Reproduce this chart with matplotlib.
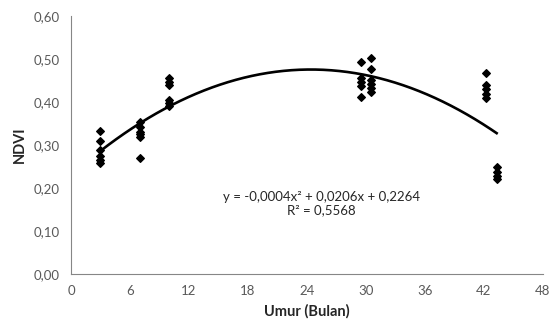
import numpy as np
import matplotlib
matplotlib.use("Agg")
import matplotlib.pyplot as plt
from matplotlib.ticker import FuncFormatter

plt.rcParams['font.family'] = ['Lato', 'DejaVu Sans']

umur = [3, 3, 3, 3, 3, 3,
        7, 7, 7, 7, 7, 7,
        10, 10, 10, 10, 10, 10,
        29.5, 29.5, 29.5, 29.5, 29.5,
        30.5, 30.5, 30.5, 30.5, 30.5, 30.5,
        42.2, 42.2, 42.2, 42.2, 42.2,
        43.3, 43.3, 43.3, 43.3]
ndvi = [0.333, 0.310, 0.289, 0.274, 0.265, 0.258,
        0.353, 0.341, 0.331, 0.325, 0.319, 0.269,
        0.455, 0.447, 0.440, 0.405, 0.398, 0.391,
        0.494, 0.455, 0.446, 0.438, 0.412,
        0.503, 0.476, 0.451, 0.441, 0.432, 0.423,
        0.468, 0.440, 0.430, 0.418, 0.410,
        0.248, 0.238, 0.228, 0.222]

xticks = [0, 6, 12, 18, 24, 30, 36, 42, 48]
yticks = [0.0, 0.1, 0.2, 0.3, 0.4, 0.5, 0.6]

fig = plt.figure(figsize=(5.5, 3.27), dpi=100)
ax = fig.add_axes([0.129, 0.162, 0.858, 0.789])

# polynomial trendline (order 2)
coef = np.polyfit(umur, ndvi, 2)
xs = np.linspace(min(umur), max(umur), 200)
ax.plot(xs, np.polyval(coef, xs), color='black', lw=1.9)

ax.scatter(umur, ndvi, marker='D', s=15, color='black', zorder=3)

ax.set_xlim(0, 48)
ax.set_ylim(0, 0.6)
ax.set_xticks(xticks)
ax.set_yticks(yticks)
ax.yaxis.set_major_formatter(FuncFormatter(lambda v, p: f"{v:.2f}".replace('.', ',')))
ax.tick_params(length=0, labelsize=9.5, colors='#595959', pad=8)
for s in ['top', 'right']:
    ax.spines[s].set_visible(False)
for s in ['left', 'bottom']:
    ax.spines[s].set_color('#868686')

ax.set_xlabel('Umur (Bulan)', fontsize=10.5, fontweight='bold', color='#262626', labelpad=5)
ax.set_ylabel('NDVI', fontsize=10.5, fontweight='bold', color='#262626', labelpad=5)

ax.text(25.5, 0.164, 'y = -0,0004x² + 0,0206x + 0,2264\nR² = 0,5568',
        ha='center', va='center', fontsize=9.5, color='#262626', linespacing=1.2)

fig.savefig('out.png', dpi=100)
